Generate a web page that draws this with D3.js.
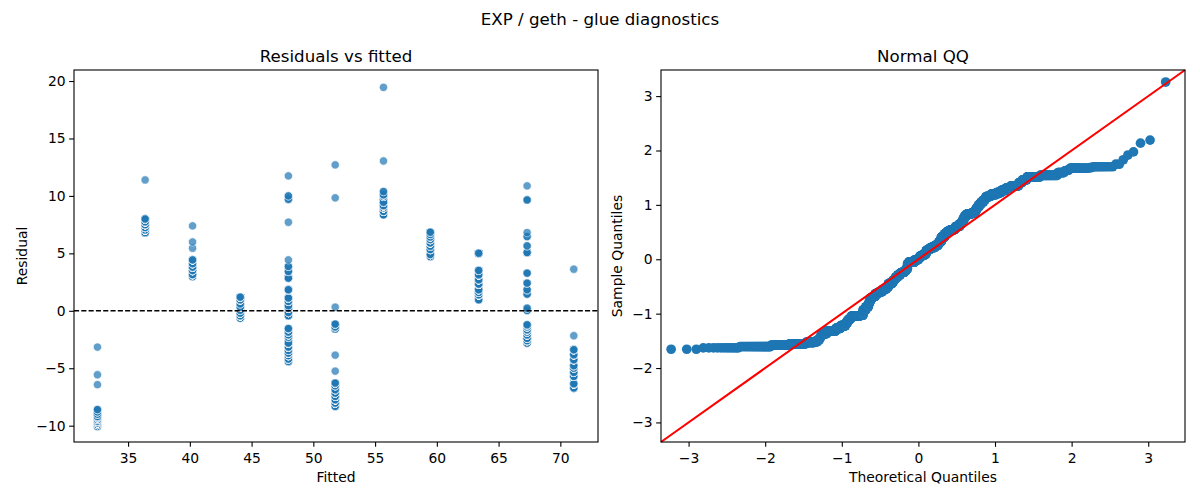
<!DOCTYPE html>
<html>
<head>
<meta charset="utf-8">
<script src="https://cdn.jsdelivr.net/npm/d3@7"></script>
<style>
  html, body { margin: 0; padding: 0; background: #fff; }
  svg { display: block; font-family: "DejaVu Sans", sans-serif; }
</style>
</head>
<body>
<div id="chart"></div>
<script>
// Fitted level of each column in the residual plot
const fitted = [32.52, 36.38, 40.22, 44.08, 47.98, 51.77, 55.68, 59.47, 63.39, 67.31, 71.09];

// Residuals per fitted level: [residual, number of observations]
const resid01 = [[-10.05, 3], [-9.9, 12], [-9.75, 28], [-9.6, 30], [-9.45, 40], [-9.3, 26], [-9.2, 12], [-9.0, 6], [-8.8, 4], [-8.6, 3], [-6.43, 1], [-5.57, 1], [-3.16, 1]];
const resid02 = [[6.8, 20], [7.04, 30], [7.25, 22], [7.5, 20], [7.75, 20], [7.99, 30], [11.39, 1]];
const resid03 = [[2.98, 20], [3.15, 20], [3.5, 15], [3.8, 12], [4.1, 10], [4.43, 10], [5.45, 1], [5.99, 1], [7.39, 1]];
const resid04 = [[-0.64, 10], [-0.43, 35], [-0.2, 15], [0.05, 10], [0.32, 20], [0.6, 3], [0.95, 10], [1.19, 25]];
const resid05 = [[-4.41, 14], [-4.2, 10], [-3.9, 15], [-3.68, 24], [-3.45, 20], [-3.16, 14], [-2.81, 16], [-2.3, 8], [-2.09, 10], [-1.85, 10], [-1.55, 16], [-0.43, 14], [-0.15, 18], [0.23, 12], [0.44, 14], [0.82, 10], [1.11, 14], [1.83, 5], [2.84, 10], [3.42, 3], [3.86, 3], [4.43, 1], [7.71, 1], [9.71, 3], [10.0, 2], [11.74, 1]];
const resid06 = [[-8.32, 22], [-8.03, 38], [-7.74, 24], [-7.45, 25], [-7.16, 10], [-6.87, 8], [-6.52, 7], [-6.29, 17], [-5.25, 1], [-3.86, 1], [-1.58, 6], [-1.4, 5], [-1.16, 5], [0.32, 1], [9.83, 1], [12.7, 1]];
const resid07 = [[8.35, 12], [8.65, 15], [8.97, 35], [9.15, 35], [9.45, 10], [9.95, 18], [10.1, 10], [10.38, 2], [13.04, 1], [19.45, 1]];
const resid08 = [[4.72, 15], [4.9, 30], [5.33, 8], [5.62, 10], [5.91, 12], [6.2, 15], [6.43, 8], [6.64, 5], [6.84, 5]];
const resid09 = [[0.96, 10], [1.39, 25], [1.6, 8], [1.83, 10], [2.32, 25], [2.7, 12], [3.13, 15], [3.51, 15], [5.01, 15]];
const resid10 = [[-2.81, 12], [-2.6, 11], [-2.4, 8], [-2.1, 8], [-1.85, 9], [-1.65, 12], [-1.4, 8], [-1.22, 8], [0.03, 2], [0.23, 2], [1.45, 3], [1.83, 3], [2.41, 3], [3.28, 3], [5.07, 9], [5.65, 2], [6.46, 2], [6.81, 1], [9.65, 3], [10.87, 1]];
const resid11 = [[-6.72, 10], [-6.35, 50], [-5.71, 18], [-5.36, 16], [-4.99, 6], [-4.78, 6], [-4.26, 12], [-3.83, 12], [-3.39, 10], [-2.17, 1], [3.62, 1]];

const residGroups = [resid01, resid02, resid03, resid04, resid05, resid06, resid07, resid08, resid09, resid10, resid11];

const fittedTicks = [35, 40, 45, 50, 55, 60, 65, 70];
const residTicks = [-10, -5, 0, 5, 10, 15, 20];
const qqTicks = [-3, -2, -1, 0, 1, 2, 3];

const fittedDomain = [30.62, 73.05];
const residDomain = [-11.42, 20.96];
const qqDomain = [-3.36, 3.48];

const W = 1200;
const H = 500;
const BLUE = '#1f77b4';

// Inverse standard normal CDF (Acklam's rational approximation)
function normPpf(p) {
  const a = [-3.969683028665376e+01, 2.209460984245205e+02, -2.759285104469687e+02, 1.383577518672690e+02, -3.066479806614716e+01, 2.506628277459239e+00];
  const b = [-5.447609879822406e+01, 1.615858368580409e+02, -1.556989798598866e+02, 6.680131188771972e+01, -1.328068155288572e+01];
  const c = [-7.784894002430293e-03, -3.223964580411365e-01, -2.400758277161838e+00, -2.549732539343734e+00, 4.374664141464968e+00, 2.938163982698783e+00];
  const d = [7.784695709041462e-03, 3.224671290700398e-01, 2.445134137142996e+00, 3.754408661907416e+00];
  const pl = 0.02425;
  if (p < pl) {
    const q = Math.sqrt(-2 * Math.log(p));
    return (((((c[0] * q + c[1]) * q + c[2]) * q + c[3]) * q + c[4]) * q + c[5]) / ((((d[0] * q + d[1]) * q + d[2]) * q + d[3]) * q + 1);
  }
  if (p > 1 - pl) {
    const q = Math.sqrt(-2 * Math.log(1 - p));
    return -(((((c[0] * q + c[1]) * q + c[2]) * q + c[3]) * q + c[4]) * q + c[5]) / ((((d[0] * q + d[1]) * q + d[2]) * q + d[3]) * q + 1);
  }
  const q = p - 0.5;
  const r = q * q;
  return (((((a[0] * r + a[1]) * r + a[2]) * r + a[3]) * r + a[4]) * r + a[5]) * q / (((((b[0] * r + b[1]) * r + b[2]) * r + b[3]) * r + b[4]) * r + 1);
}

// one record per observation
const points = [];
residGroups.forEach((grp, i) => {
  grp.forEach(([r, n]) => {
    for (let k = 0; k < n; k++) points.push({ fitted: fitted[i], resid: r });
  });
});

// standardised sample quantiles vs theoretical normal quantiles
const sorted = points.map((p) => p.resid).sort((a, b) => a - b);
const nObs = sorted.length;
const mu = d3.mean(sorted);
const sd = Math.sqrt(d3.mean(sorted, (v) => (v - mu) * (v - mu)));
const qqPoints = sorted.map((v, i) => ({ t: normPpf((i + 1) / (nObs + 1)), s: (v - mu) / sd }));

const svg = d3.select('#chart').append('svg')
  .attr('width', W)
  .attr('height', H)
  .attr('viewBox', [0, 0, W, H]);

svg.append('text')
  .attr('x', 600)
  .attr('y', 24.5)
  .attr('text-anchor', 'middle')
  .attr('font-size', '16.67px')
  .text('EXP / geth - glue diagnostics');

function drawFrame(g, box, x, y, xTicks, yTicks, opts) {
  const tickLen = 4.86;
  const fmt = (v) => d3.format('d')(v);

  const xAxis = g.append('g').attr('transform', `translate(0,${box.y1})`)
    .call(d3.axisBottom(x).tickValues(xTicks).tickFormat(fmt).tickSize(tickLen).tickPadding(3.5));
  const yAxis = g.append('g').attr('transform', `translate(${box.x0},0)`)
    .call(d3.axisLeft(y).tickValues(yTicks).tickFormat(fmt).tickSize(tickLen).tickPadding(3.5));

  [xAxis, yAxis].forEach((ax) => {
    ax.select('.domain').remove();
    ax.selectAll('.tick line').attr('stroke', '#000').attr('stroke-width', 1.1);
    ax.selectAll('.tick text')
      .attr('fill', '#000')
      .attr('font-size', '13.89px')
      .attr('font-family', '"DejaVu Sans", sans-serif');
  });
  xAxis.selectAll('.tick text').attr('dy', '0.9em');

  g.append('rect')
    .attr('x', box.x0)
    .attr('y', box.y0)
    .attr('width', box.x1 - box.x0)
    .attr('height', box.y1 - box.y0)
    .attr('fill', 'none')
    .attr('stroke', '#000')
    .attr('stroke-width', 1.1);

  const cx = (box.x0 + box.x1) / 2;
  g.append('text')
    .attr('x', cx)
    .attr('y', box.y0 - 8.3)
    .attr('text-anchor', 'middle')
    .attr('font-size', '16.67px')
    .text(opts.title);

  g.append('text')
    .attr('x', cx)
    .attr('y', 482)
    .attr('text-anchor', 'middle')
    .attr('font-size', '13.89px')
    .text(opts.xLabel);

  g.append('text')
    .attr('transform', `translate(${opts.yLabelX},${(box.y0 + box.y1) / 2}) rotate(-90)`)
    .attr('text-anchor', 'middle')
    .attr('font-size', '13.89px')
    .text(opts.yLabel);
}

// --- Residuals vs fitted ---
const boxL = { x0: 74, x1: 598, y0: 70, y1: 442 };
const xL = d3.scaleLinear().domain(fittedDomain).range([boxL.x0, boxL.x1]);
const yL = d3.scaleLinear().domain(residDomain).range([boxL.y1, boxL.y0]);
const gL = svg.append('g');

gL.append('g')
  .selectAll('circle')
  .data(points)
  .join('circle')
  .attr('cx', (d) => xL(d.fitted))
  .attr('cy', (d) => yL(d.resid))
  .attr('r', 4.17)
  .attr('fill', BLUE)
  .attr('stroke', '#fff')
  .attr('stroke-width', 0.67)
  .attr('opacity', 0.7);

gL.append('line')
  .attr('x1', boxL.x0)
  .attr('x2', boxL.x1)
  .attr('y1', yL(0))
  .attr('y2', yL(0))
  .attr('stroke', '#000')
  .attr('stroke-width', 1.39)
  .attr('stroke-dasharray', '5.1,2.2');

drawFrame(gL, boxL, xL, yL, fittedTicks, residTicks, {
  title: 'Residuals vs fitted', xLabel: 'Fitted', yLabel: 'Residual', yLabelX: 27
});

// --- Normal QQ ---
const boxR = { x0: 661, x1: 1185, y0: 70, y1: 442 };
const xR = d3.scaleLinear().domain(qqDomain).range([boxR.x0, boxR.x1]);
const yR = d3.scaleLinear().domain(qqDomain).range([boxR.y1, boxR.y0]);
const gR = svg.append('g');

gR.append('g')
  .selectAll('circle')
  .data(qqPoints)
  .join('circle')
  .attr('cx', (d) => xR(d.t))
  .attr('cy', (d) => yR(d.s))
  .attr('r', 4.85)
  .attr('fill', BLUE);

gR.append('line')
  .attr('x1', xR(qqDomain[0]))
  .attr('y1', yR(qqDomain[0]))
  .attr('x2', xR(qqDomain[1]))
  .attr('y2', yR(qqDomain[1]))
  .attr('stroke', '#ff0000')
  .attr('stroke-width', 2.08);

drawFrame(gR, boxR, xR, yR, qqTicks, qqTicks, {
  title: 'Normal QQ', xLabel: 'Theoretical Quantiles', yLabel: 'Sample Quantiles', yLabelX: 622
});
</script>
</body>
</html>
